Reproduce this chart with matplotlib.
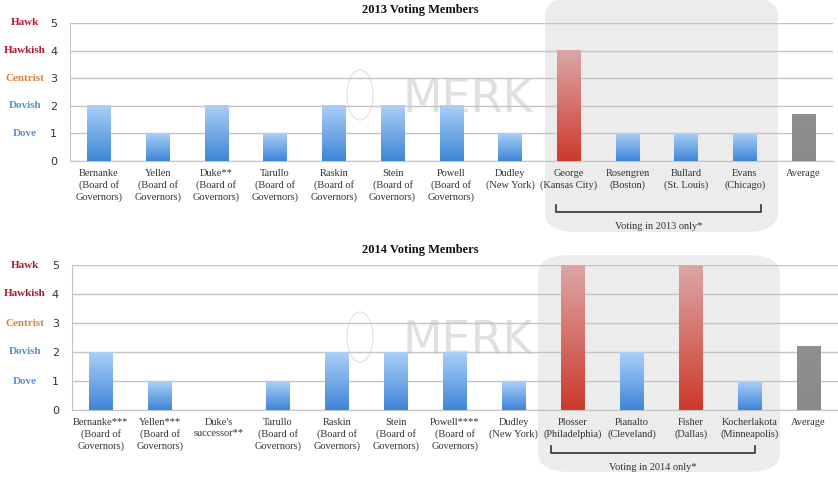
import numpy as np
import matplotlib
matplotlib.use("Agg")
import matplotlib.pyplot as plt
from matplotlib.colors import LinearSegmentedColormap
from matplotlib.patches import FancyBboxPatch, Ellipse
from matplotlib.lines import Line2D
from matplotlib.transforms import blended_transform_factory

W, H = 838, 478

# ---- data ----
labels_2013 = ["Bernanke\n(Board of\nGovernors)", "Yellen\n(Board of\nGovernors)",
               "Duke**\n(Board of\nGovernors)", "Tarullo\n(Board of\nGovernors)",
               "Raskin\n(Board of\nGovernors)", "Stein\n(Board of\nGovernors)",
               "Powell\n(Board of\nGovernors)", "Dudley\n(New York)",
               "George\n(Kansas City)", "Rosengren\n(Boston)", "Bullard\n(St. Louis)",
               "Evans\n(Chicago)", "Average"]
values_2013 = [2, 1, 2, 1, 2, 2, 2, 1, 4, 1, 1, 1, 1.67]

labels_2014 = ["Bernanke***\n(Board of\nGovernors)", "Yellen***\n(Board of\nGovernors)",
               "Duke's\nsuccessor**", "Tarullo\n(Board of\nGovernors)",
               "Raskin\n(Board of\nGovernors)", "Stein\n(Board of\nGovernors)",
               "Powell****\n(Board of\nGovernors)", "Dudley\n(New York)",
               "Plosser\n(Philadelphia)", "Pianalto\n(Cleveland)", "Fisher\n(Dallas)",
               "Kocherlakota\n(Minneapolis)", "Average"]
values_2014 = [2, 1, 0, 1, 2, 2, 2, 1, 5, 2, 5, 1, 2.18]

stances = ["Dove", "Dovish", "Centrist", "Hawkish", "Hawk"]
stance_colors = ["#5b8fd2", "#5b8fd2", "#d9843a", "#b3182b", "#b3182b"]

BLUE = ("#3f86d8", "#abcff7")
RED = ("#cd3a2c", "#dca6a6")
GRAY = ("#8a8a8a", "#8f8f8f")

serif = ["Liberation Serif", "DejaVu Serif"]

fig = plt.figure(figsize=(W / 100, H / 100), dpi=100)


def px_box(l, t, r, b):
    return [l / W, 1 - b / H, (r - l) / W, (b - t) / H]


def grad_bar(ax, x, h, cols, w=0.4):
    cmap = LinearSegmentedColormap.from_list("g", list(cols))
    ax.imshow(np.linspace(0, 1, 64).reshape(-1, 1), extent=(x - w / 2, x + w / 2, 0, h),
              origin="lower", cmap=cmap, aspect="auto", zorder=3, interpolation="bilinear")


def panel(box, labels, values, title, title_y, shade, bracket, note):
    # shaded rounded box behind the regional presidents
    l, t, r, b = shade
    fig.patches.append(FancyBboxPatch((l / W, 1 - b / H), (r - l) / W, (b - t) / H,
                                      boxstyle="round,pad=0,rounding_size=0.04",
                                      transform=fig.transFigure, facecolor="#ececec",
                                      edgecolor="none", zorder=0))
    ax = fig.add_axes(px_box(*box))
    ax.set_facecolor("none")
    ax.set_zorder(1)
    n = len(values)
    for i, v in enumerate(values):
        if v <= 0:
            continue
        if i == n - 1:
            cols = GRAY
        elif v >= 4:
            cols = RED
        else:
            cols = BLUE
        grad_bar(ax, i, v, cols)
    ax.set_xlim(-0.5, n - 0.5)
    ax.set_ylim(0, 5)
    ax.set_yticks(range(6))
    ax.yaxis.grid(True, color="#c4c4c4", lw=1.0, zorder=1)
    ax.set_axisbelow(True)
    for s in ("top", "right"):
        ax.spines[s].set_visible(False)
    for s in ("left", "bottom"):
        ax.spines[s].set_color("#c4c4c4")
    ax.tick_params(axis="y", length=0, pad=9, labelsize=8, labelcolor="#333333")
    ax.tick_params(axis="x", length=0, pad=6)
    ax.set_xticks(range(n))
    ax.set_xticklabels(labels, fontsize=7.5, family=serif, color="#333333", linespacing=1.25)

    tr = blended_transform_factory(fig.transFigure, ax.transData)
    for k, (s, c) in enumerate(zip(stances, stance_colors)):
        ax.text(25 / W, k + 1, s, transform=tr, ha="center", va="center",
                fontsize=8, fontweight="bold", family=serif, color=c)

    fig.text(420 / W, 1 - title_y / H, title, ha="center", va="center",
             fontsize=9, fontweight="bold", family=serif, color="#111111")

    # watermark
    cx = 468 / W
    cy = 1 - (box[1] + 77) / H
    fig.text(cx, cy, "MERK", ha="center", va="center", fontsize=33,
             color="#e0e0e0", family="DejaVu Sans", zorder=0.5)
    fig.patches.append(Ellipse((360 / W, 1 - (box[1] + 72) / H), 26 / W, 50 / H,
                               transform=fig.transFigure, facecolor="none",
                               edgecolor="#e6e6e6", lw=1, zorder=0.5))

    bl, br, by, bt = bracket
    fig.lines.append(Line2D([bl / W, bl / W, br / W, br / W],
                            [1 - bt / H, 1 - by / H, 1 - by / H, 1 - bt / H],
                            transform=fig.transFigure, color="#333333", lw=1.2))
    fig.text((bl + br) / 2 / W, 1 - (by + 14) / H, note, ha="center", va="center",
             fontsize=7.5, family=serif, color="#333333")
    return ax


panel((69.6, 23, 833, 161), labels_2013, values_2013, "2013 Voting Members", 10,
      (545, -3, 778, 232), (556, 761, 212, 205), "Voting in 2013 only*")
panel((71.5, 265, 838, 410), labels_2014, values_2014, "2014 Voting Members", 250,
      (538, 255, 780, 472), (551, 755, 453, 446), "Voting in 2014 only*")

fig.savefig("out.png", dpi=100)
